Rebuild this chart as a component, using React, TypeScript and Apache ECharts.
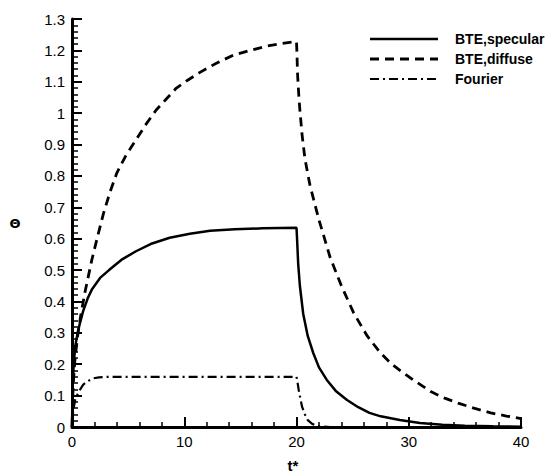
import React, { useEffect, useRef } from "react";
import * as echarts from "echarts";

// Dimensionless time t* and temperature Θ for the three models
const specularT = [0, 0.05, 0.15, 0.3, 0.5, 0.7, 1.0, 1.4, 1.8, 2.5, 3.3, 4.5, 5.7, 7, 8.7, 10.5, 12.3, 14.5, 17, 20,
  20.05, 20.15, 20.3, 20.6, 21, 21.5, 22, 22.7, 23.5, 24.5, 25.5, 26.5, 27.5, 29.2, 31, 33, 35, 37.5, 40];
const specularV = [0, 0.12, 0.2, 0.26, 0.3, 0.33, 0.37, 0.41, 0.44, 0.475, 0.5, 0.535, 0.56, 0.583, 0.603, 0.616, 0.625, 0.63, 0.633, 0.635,
  0.6, 0.52, 0.45, 0.36, 0.29, 0.235, 0.19, 0.15, 0.115, 0.086, 0.063, 0.045, 0.034, 0.022, 0.013, 0.007, 0.004, 0.002, 0.001];

const diffuseT = [0, 0.1, 0.25, 0.5, 0.8, 1.16, 1.75, 2.3, 2.8, 3.4, 4, 4.8, 5.7, 6.6, 7.5, 8.4, 9.3, 10.3, 11.4, 12.9, 14.4, 15.9, 17.4, 18.7, 20,
  20.03, 20.1, 20.2, 20.3, 20.5, 20.75, 21.2, 22, 23, 24, 25.1, 26.3, 27.5, 28.5, 29.3, 30.4, 32, 33.2, 34.4, 35.8, 37.3, 38.7, 40];
const diffuseV = [0, 0.13, 0.21, 0.29, 0.36, 0.43, 0.53, 0.61, 0.68, 0.75, 0.81, 0.865, 0.915, 0.965, 1.01, 1.045, 1.08, 1.105, 1.13, 1.16, 1.185, 1.2, 1.214, 1.222, 1.228,
  1.2, 1.12, 1.06, 1.01, 0.93, 0.855, 0.77, 0.66, 0.54, 0.45, 0.363, 0.29, 0.235, 0.2, 0.178, 0.15, 0.112, 0.092, 0.076, 0.06, 0.045, 0.035, 0.027];

const fourierT = [0, 0.1, 0.3, 0.7, 1.0, 1.4, 1.9, 2.4, 3, 4, 10, 20,
  20.1, 20.2, 20.35, 20.5, 20.75, 21, 21.4, 21.9, 23, 30, 40];
const fourierV = [0, 0.05, 0.09, 0.118, 0.135, 0.146, 0.155, 0.158, 0.16, 0.16, 0.16, 0.16,
  0.14, 0.118, 0.09, 0.064, 0.04, 0.022, 0.01, 0.003, 0, 0, 0];

const seriesNames = ["BTE,specular", "BTE,diffuse", "Fourier"];
const seriesDash: (number[] | null)[] = [null, [9, 6], [9, 4, 2, 4]];
const seriesWidth = [2.5, 2.8, 2.2];
const xTitle = "t*";
const yTitle = "Θ";

const FONT = "'Liberation Sans', Arial, Helvetica, sans-serif";

function zip(t: number[], v: number[]) {
  return t.map((x, i) => [x, v[i]]);
}

export default function App() {
  const ref = useRef<HTMLDivElement>(null);

  useEffect(() => {
    if (!ref.current) return;
    const chart = echarts.init(ref.current, undefined, { renderer: "svg" });

    // legend: line sample + bold label per series, plus the two axis titles
    const overlay: any[] = [];
    seriesNames.forEach((name, i) => {
      const y = 39 + i * 20;
      overlay.push({
        type: "line",
        shape: { x1: 370, y1: y, x2: 438, y2: y },
        style: { stroke: "#000", lineWidth: seriesWidth[i], lineDash: seriesDash[i] || undefined },
      });
      overlay.push({
        type: "text",
        x: 455,
        y,
        style: { text: name, fill: "#000", font: `bold 14px ${FONT}`, verticalAlign: "middle" },
      });
    });
    overlay.push({
      type: "text",
      x: 293,
      y: 465,
      style: { text: xTitle, fill: "#000", font: `bold 15px ${FONT}`, align: "center", verticalAlign: "middle" },
    });
    overlay.push({
      type: "text",
      x: 15,
      y: 223,
      style: { text: yTitle, fill: "#000", font: "bold 13px 'DejaVu Sans', sans-serif", align: "center", verticalAlign: "middle" },
    });

    chart.setOption({
      animation: false,
      backgroundColor: "#fff",
      grid: { left: 72, right: 36, top: 19, bottom: 45, outerBoundsMode: "none" },
      xAxis: {
        type: "value",
        min: 0,
        max: 40,
        interval: 10,
        splitLine: { show: false },
        axisLine: { show: true, lineStyle: { color: "#000", width: 3 } },
        axisTick: { show: true, inside: true, length: 10, lineStyle: { color: "#000", width: 2 } },
        minorTick: { show: true, splitNumber: 5, length: 5, lineStyle: { color: "#000", width: 1.5 } },
        axisLabel: { color: "#000", fontSize: 15, fontFamily: FONT, margin: 7 },
      },
      yAxis: {
        type: "value",
        min: 0,
        max: 1.3,
        interval: 0.1,
        splitLine: { show: false },
        axisLine: { show: true, lineStyle: { color: "#000", width: 3 } },
        axisTick: { show: true, inside: true, length: 10, lineStyle: { color: "#000", width: 2 } },
        minorTick: { show: true, splitNumber: 5, length: 6, lineStyle: { color: "#000", width: 1.5 } },
        axisLabel: { color: "#000", fontSize: 15, fontFamily: FONT, margin: 7 },
      },
      graphic: overlay,
      series: [
        {
          name: seriesNames[0],
          type: "line",
          data: zip(specularT, specularV),
          showSymbol: false,
          symbol: "none",
          lineStyle: { color: "#000", width: seriesWidth[0] },
        },
        {
          name: seriesNames[1],
          type: "line",
          data: zip(diffuseT, diffuseV),
          showSymbol: false,
          symbol: "none",
          lineStyle: { color: "#000", width: seriesWidth[1], type: seriesDash[1] },
        },
        {
          name: seriesNames[2],
          type: "line",
          data: zip(fourierT, fourierV),
          showSymbol: false,
          symbol: "none",
          lineStyle: { color: "#000", width: seriesWidth[2], type: seriesDash[2] },
        },
      ],
    });
    return () => chart.dispose();
  }, []);

  // negative margins cancel the page's default 8px body margin
  return <div ref={ref} style={{ width: 557, height: 472, margin: "-8px 0 0 -8px" }} />;
}
